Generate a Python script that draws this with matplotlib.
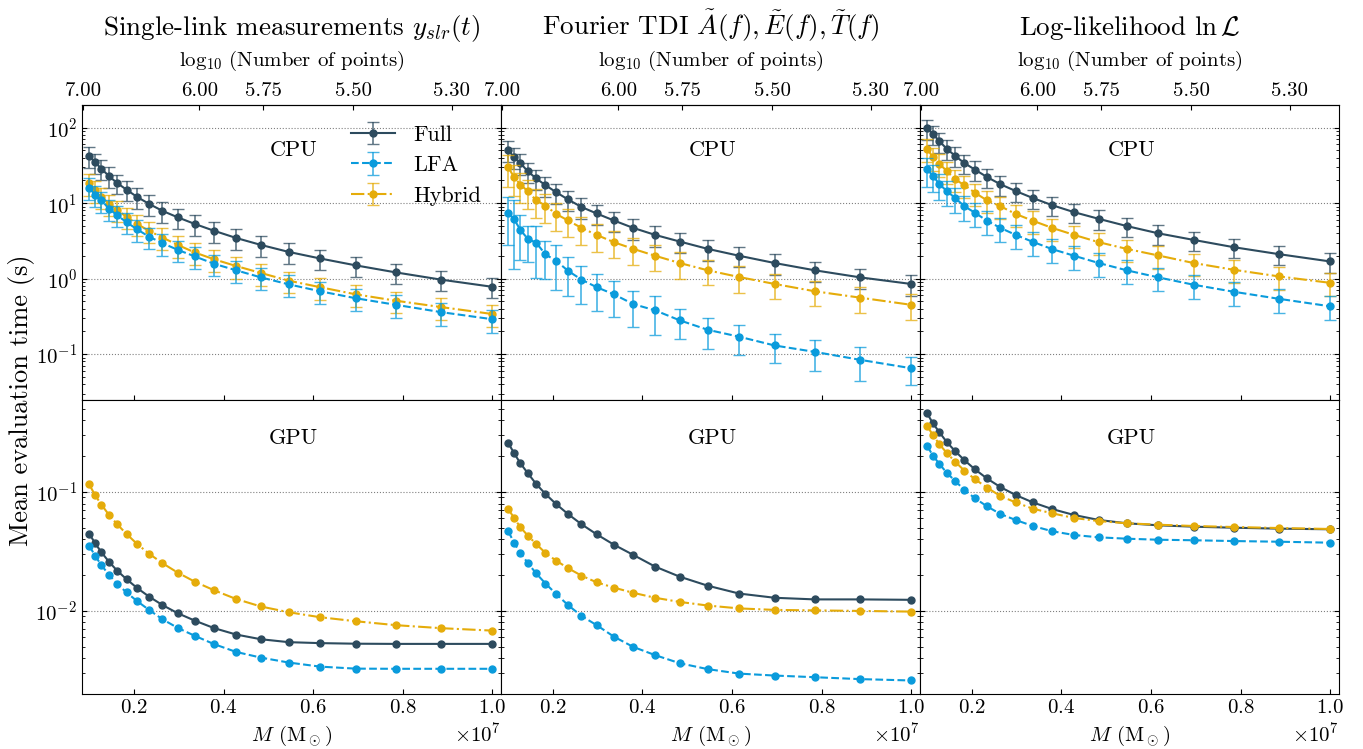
import numpy as np
import matplotlib
matplotlib.use("Agg")
import matplotlib.pyplot as plt
from matplotlib.colors import to_rgba
from matplotlib.ticker import FormatStrFormatter, LogLocator, NullFormatter

plt.rcParams['font.family'] = 'serif'
plt.rcParams['font.serif'] = ['cmr10']
plt.rcParams['mathtext.fontset'] = 'cm'
plt.rcParams['axes.formatter.use_mathtext'] = True

# total mass grid (solar masses)
mass = [1.000e6, 1.129e6, 1.274e6, 1.438e6, 1.624e6, 1.833e6, 2.069e6, 2.336e6,
        2.637e6, 2.976e6, 3.360e6, 3.793e6, 4.281e6, 4.833e6, 5.456e6, 6.158e6,
        6.952e6, 7.848e6, 8.859e6, 1.000e7]

# CPU timings (s)
cpu_slr_full = [42.8, 34.9, 28.6, 22.9, 18.5, 15.1, 12.1, 9.8, 7.9, 6.5,
                5.3, 4.3, 3.46, 2.80, 2.26, 1.85, 1.50, 1.21, 0.97, 0.78]
cpu_slr_lfa = [16.1, 13.0, 10.9, 8.5, 6.9, 5.6, 4.5, 3.6, 2.95, 2.41,
               1.97, 1.57, 1.29, 1.04, 0.84, 0.68, 0.55, 0.45, 0.36, 0.29]
cpu_slr_hybrid = [18.5, 14.8, 12.1, 9.9, 8.1, 6.6, 5.3, 4.3, 3.5, 2.8,
                  2.22, 1.80, 1.47, 1.19, 0.94, 0.77, 0.62, 0.51, 0.42, 0.34]

cpu_tdi_full = [50.9, 40.6, 33.9, 26.4, 21.3, 17.3, 14.0, 11.2, 8.9, 7.3,
                5.9, 4.7, 3.8, 3.1, 2.48, 2.01, 1.61, 1.29, 1.04, 0.85]
cpu_tdi_lfa = [7.45, 6.15, 4.41, 3.36, 3.0, 2.09, 1.73, 1.27, 0.97, 0.77,
               0.62, 0.46, 0.38, 0.28, 0.21, 0.17, 0.13, 0.107, 0.084, 0.065]
cpu_tdi_hybrid = [30.0, 22.2, 17.6, 14.4, 10.9, 9.3, 7.2, 5.9, 4.7, 3.8,
                  3.04, 2.48, 2.01, 1.61, 1.29, 1.05, 0.85, 0.68, 0.56, 0.45]

cpu_lnl_full = [98.0, 82.6, 66.1, 52.5, 42.4, 33.9, 27.8, 22.2, 17.8, 14.5,
                11.7, 9.4, 7.6, 6.2, 4.98, 3.99, 3.26, 2.61, 2.11, 1.69]
cpu_lnl_lfa = [28.0, 23.1, 17.8, 14.5, 11.7, 9.1, 7.45, 5.85, 4.7, 3.8,
               3.07, 2.46, 2.01, 1.61, 1.29, 1.04, 0.83, 0.67, 0.54, 0.43]
cpu_lnl_hybrid = [52.5, 40.6, 33.3, 26.6, 20.7, 17.3, 13.7, 10.9, 9.1, 7.2,
                  5.85, 4.7, 3.8, 3.04, 2.48, 2.03, 1.61, 1.31, 1.07, 0.88]

# relative standard deviation of the CPU timings
err_slr_full = [0.31, 0.30, 0.30, 0.30, 0.29, 0.30, 0.30, 0.30, 0.30, 0.30,
                0.30, 0.30, 0.30, 0.30, 0.30, 0.30, 0.30, 0.30, 0.30, 0.30]
err_slr_lfa = [0.32, 0.31, 0.31, 0.31, 0.31, 0.31, 0.31, 0.32, 0.32, 0.32,
               0.32, 0.32, 0.32, 0.33, 0.33, 0.33, 0.33, 0.33, 0.34, 0.34]
err_slr_hybrid = [0.32, 0.32, 0.31, 0.31, 0.31, 0.31, 0.31, 0.31, 0.32, 0.32,
                  0.32, 0.32, 0.32, 0.32, 0.32, 0.32, 0.32, 0.32, 0.32, 0.32]

err_tdi_full = [0.32, 0.31, 0.31, 0.30, 0.30, 0.30, 0.30, 0.30, 0.30, 0.30,
                0.30, 0.30, 0.30, 0.30, 0.30, 0.30, 0.30, 0.30, 0.30, 0.30]
err_tdi_lfa = [0.63, 0.78, 0.60, 0.50, 0.66, 0.52, 0.59, 0.53, 0.53, 0.51,
               0.50, 0.50, 0.53, 0.43, 0.44, 0.42, 0.42, 0.44, 0.48, 0.40]
err_tdi_hybrid = [0.45, 0.44, 0.42, 0.42, 0.41, 0.42, 0.40, 0.40, 0.40, 0.40,
                  0.39, 0.38, 0.38, 0.38, 0.37, 0.38, 0.37, 0.37, 0.37, 0.37]

err_lnl_full = [0.29, 0.29, 0.29, 0.29, 0.29, 0.29, 0.29, 0.29, 0.29, 0.29,
                0.29, 0.29, 0.29, 0.29, 0.29, 0.29, 0.29, 0.29, 0.29, 0.29]
err_lnl_lfa = [0.41, 0.40, 0.38, 0.37, 0.36, 0.36, 0.36, 0.35, 0.35, 0.35,
               0.35, 0.35, 0.35, 0.35, 0.35, 0.35, 0.35, 0.35, 0.35, 0.35]
err_lnl_hybrid = [0.34, 0.34, 0.33, 0.33, 0.33, 0.33, 0.33, 0.33, 0.33, 0.33,
                  0.33, 0.33, 0.33, 0.33, 0.33, 0.33, 0.33, 0.33, 0.33, 0.33]

# GPU timings (s)
gpu_slr_full = [0.0447, 0.0372, 0.0311, 0.0260, 0.0218, 0.0185, 0.0156, 0.0132,
                0.0112, 0.00957, 0.00828, 0.00716, 0.00633, 0.00578, 0.00546,
                0.00536, 0.00530, 0.00528, 0.00528, 0.00528]
gpu_slr_lfa = [0.0354, 0.0292, 0.0242, 0.0202, 0.0169, 0.0143, 0.0121, 0.0102,
               0.00851, 0.00720, 0.00617, 0.00525, 0.00452, 0.00405, 0.00368,
               0.00340, 0.00327, 0.00326, 0.00326, 0.00326]
gpu_slr_hybrid = [0.116, 0.0944, 0.0782, 0.0645, 0.0536, 0.0444, 0.0366, 0.0303,
                  0.0252, 0.0210, 0.0176, 0.0149, 0.0126, 0.0109, 0.00975,
                  0.00885, 0.00819, 0.00759, 0.00716, 0.00683]

gpu_tdi_full = [0.259, 0.213, 0.174, 0.144, 0.117, 0.0962, 0.0793, 0.0653,
                0.0536, 0.0441, 0.0361, 0.0296, 0.0236, 0.0194, 0.0163,
                0.0140, 0.0129, 0.0125, 0.0125, 0.0124]
gpu_tdi_lfa = [0.0470, 0.0375, 0.0307, 0.0253, 0.0207, 0.0170, 0.0139, 0.0112,
               0.00908, 0.00759, 0.00608, 0.00498, 0.00425, 0.00363, 0.00324,
               0.00297, 0.00286, 0.00277, 0.00267, 0.00260]
gpu_tdi_hybrid = [0.0724, 0.0605, 0.0505, 0.0430, 0.0366, 0.0307, 0.0265, 0.0229,
                  0.0198, 0.0174, 0.0157, 0.0142, 0.0129, 0.0119, 0.0111,
                  0.0105, 0.0102, 0.0101, 0.0100, 0.00987]

gpu_lnl_full = [0.458, 0.378, 0.318, 0.263, 0.221, 0.185, 0.155, 0.130,
                0.110, 0.0944, 0.0818, 0.0719, 0.0641, 0.0582, 0.0546,
                0.0525, 0.0511, 0.0501, 0.0492, 0.0486]
gpu_lnl_lfa = [0.244, 0.202, 0.172, 0.145, 0.124, 0.104, 0.0885, 0.0758,
               0.0653, 0.0582, 0.0518, 0.0468, 0.0435, 0.0416, 0.0405,
               0.0397, 0.0393, 0.0387, 0.0382, 0.0375]
gpu_lnl_hybrid = [0.359, 0.301, 0.252, 0.213, 0.180, 0.151, 0.128, 0.109,
                  0.0925, 0.0818, 0.0724, 0.0662, 0.0605, 0.0570, 0.0546,
                  0.0531, 0.0518, 0.0508, 0.0498, 0.0489]

titles = [r'Single-link measurements $y_{slr}(t)$',
          r'Fourier TDI $\tilde{A}(f), \tilde{E}(f), \tilde{T}(f)$',
          r'Log-likelihood $\ln\mathcal{L}$']
labels = ['Full', 'LFA', 'Hybrid']
top_ticks = [7.00, 6.00, 5.75, 5.50, 5.30]
x_ticks = [2e6, 4e6, 6e6, 8e6, 1e7]

cpu_data = [[cpu_slr_full, cpu_slr_lfa, cpu_slr_hybrid],
            [cpu_tdi_full, cpu_tdi_lfa, cpu_tdi_hybrid],
            [cpu_lnl_full, cpu_lnl_lfa, cpu_lnl_hybrid]]
cpu_err = [[err_slr_full, err_slr_lfa, err_slr_hybrid],
           [err_tdi_full, err_tdi_lfa, err_tdi_hybrid],
           [err_lnl_full, err_lnl_lfa, err_lnl_hybrid]]
gpu_data = [[gpu_slr_full, gpu_slr_lfa, gpu_slr_hybrid],
            [gpu_tdi_full, gpu_tdi_lfa, gpu_tdi_hybrid],
            [gpu_lnl_full, gpu_lnl_lfa, gpu_lnl_hybrid]]

COLORS = ['#2d4b5e', '#0a9bdc', '#e5ac0a']
STYLES = ['-', '--', '-.']
ZORD = [2, 4, 3]


# number of points scales as M^(-5/3)
def mass_to_logn(m):
    m = np.clip(np.asarray(m, dtype=float), 1.0, None)
    return 16.898 - 5.0 / 3.0 * np.log10(m)


def logn_to_mass(n):
    return 10 ** ((16.898 - np.asarray(n, dtype=float)) * 0.6)


fig, axes = plt.subplots(2, 3, figsize=(13.63, 7.49), sharex='col', sharey='row')
fig.subplots_adjust(left=0.0602, right=0.9824, top=0.8598, bottom=0.0734,
                    wspace=0, hspace=0)

for j in range(3):
    ax_c = axes[0, j]
    ax_g = axes[1, j]

    for k in range(3):
        vals = np.array(cpu_data[j][k])
        yerr = vals * np.array(cpu_err[j][k])
        ax_c.errorbar(mass, vals, yerr=yerr, color=COLORS[k],
                      ecolor=to_rgba(COLORS[k], 0.75), ls=STYLES[k], lw=1.5,
                      marker='o', ms=5, capsize=4, elinewidth=1.2,
                      zorder=ZORD[k], label=labels[k])
        ax_g.plot(mass, gpu_data[j][k], color=COLORS[k], ls=STYLES[k], lw=1.5,
                  marker='o', ms=5, zorder=ZORD[k], label=labels[k])

    for ax in (ax_c, ax_g):
        ax.set_yscale('log')
        ax.yaxis.set_major_locator(LogLocator(base=10, numticks=12))
        ax.yaxis.set_minor_locator(LogLocator(base=10, subs=np.arange(2, 10), numticks=40))
        ax.yaxis.set_minor_formatter(NullFormatter())
        ax.yaxis.grid(True, which='major', ls=':', color='gray', lw=0.8)
        ax.tick_params(which='both', direction='in', left=True, right=True,
                       top=False, bottom=True, labelsize=15)
        ax.set_xticks(x_ticks)
        ax.set_xlim(8.4e5, 1.02e7)
        ax.xaxis.get_offset_text().set_fontsize(15)

    ax_c.text(0.504, 0.847, 'CPU', transform=ax_c.transAxes, ha='center',
              va='center', fontsize=16)
    ax_g.text(0.504, 0.87, 'GPU', transform=ax_g.transAxes, ha='center',
              va='center', fontsize=16)

    sec = ax_c.secondary_xaxis('top', functions=(mass_to_logn, logn_to_mass))
    sec.set_xticks(top_ticks)
    sec.xaxis.set_major_formatter(FormatStrFormatter('%.2f'))
    sec.tick_params(direction='in', labelsize=15)
    sec.set_xlabel(r'$\log_{10}\,$(Number of points)', fontsize=15, labelpad=12)

    ax_c.set_title(titles[j], fontsize=19.5, pad=10)
    ax_g.set_xlabel(r'$M$ (M$_\odot$)', fontsize=15, labelpad=5)

axes[0, 0].set_ylim(0.025, 200)
axes[1, 0].set_ylim(0.002, 0.6)

axes[0, 0].legend(loc='upper right', frameon=False, fontsize=16)

fig.text(0.016, 0.466, 'Mean evaluation time (s)', rotation=90, ha='center',
         va='center', fontsize=19)

fig.savefig('out.png', dpi=100)
